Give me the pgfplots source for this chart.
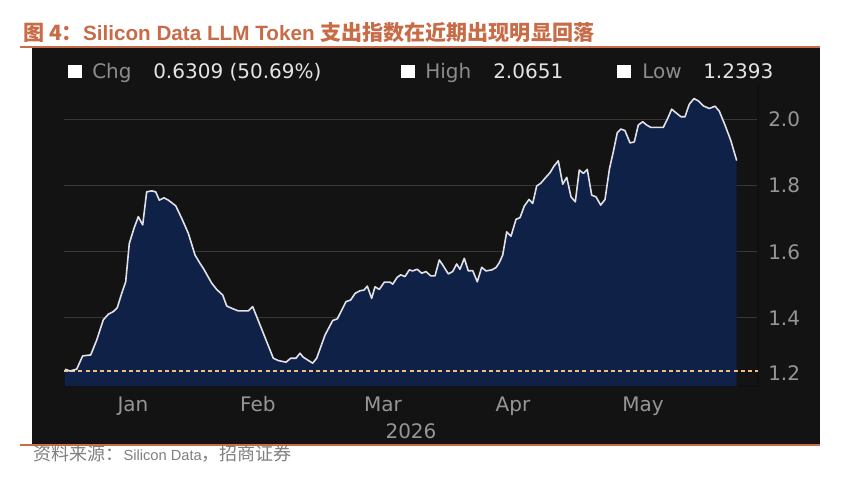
\documentclass[border=0pt]{standalone}
\usepackage{fontspec}
\usepackage{pgfplots}
\usepackage{pgfplotstable}
\pgfplotsset{compat=1.18}
\setmainfont{Liberation Sans}
\newfontfamily\cjk{Noto Sans CJK SC}
\newfontfamily\dv{DejaVu Sans}
\definecolor{titlec}{RGB}{200,108,72}
\definecolor{panel}{RGB}{19,19,19}
\definecolor{fillc}{RGB}{15,33,70}
\definecolor{gridc}{RGB}{55,55,55}
\definecolor{tickc}{RGB}{150,150,150}
\definecolor{labc}{RGB}{140,140,140}
\definecolor{valc}{RGB}{228,228,228}
\definecolor{dashc}{RGB}{240,190,130}
\definecolor{linec}{RGB}{225,225,232}
\definecolor{srcc}{RGB}{128,128,128}

\pgfplotstableread{
d v
0 1.2446
1.18 1.2393
2.75 1.245
4.16 1.285
6.05 1.288
7.46 1.333
9.01 1.394
10.19 1.411
11.36 1.419
12.31 1.431
13.34 1.474
14.28 1.509
15.13 1.625
16.24 1.671
17.25 1.706
18.28 1.681
19.22 1.781
20.40 1.784
21.34 1.781
22.19 1.756
23.29 1.763
24.31 1.756
26.05 1.739
27.46 1.701
29.01 1.656
30.59 1.590
31.76 1.565
32.54 1.550
34.52 1.505
35.69 1.486
37.11 1.469
38.05 1.436
39.22 1.429
40.78 1.421
43.13 1.421
44.16 1.434
45.88 1.379
49.01 1.278
50.19 1.271
52.00 1.266
53.11 1.278
54.35 1.278
55.29 1.293
56.07 1.281
58.28 1.263
59.22 1.278
61.18 1.348
62.99 1.392
64.07 1.397
66.12 1.449
67.22 1.454
68.24 1.474
69.41 1.482
70.35 1.484
71.13 1.496
72.16 1.459
72.94 1.494
73.95 1.486
75.13 1.508
76.47 1.508
77.11 1.502
78.19 1.523
78.99 1.530
80.00 1.525
81.01 1.545
81.81 1.542
82.89 1.547
83.93 1.535
84.94 1.540
86.05 1.527
87.06 1.527
88.07 1.575
88.87 1.560
90.19 1.533
91.22 1.540
92.16 1.563
92.94 1.547
93.95 1.580
94.89 1.542
95.93 1.543
97.01 1.509
98.05 1.553
99.06 1.542
100.40 1.545
101.41 1.552
102.19 1.567
102.99 1.590
103.93 1.660
104.94 1.647
106.12 1.698
107.06 1.703
108.07 1.738
109.18 1.758
110.05 1.746
110.99 1.799
111.93 1.807
112.94 1.822
114.12 1.839
115.06 1.859
116.07 1.875
117.11 1.804
118.05 1.825
119.06 1.766
120.07 1.751
121.01 1.847
121.95 1.837
122.89 1.849
123.93 1.771
124.94 1.766
126.05 1.741
127.06 1.758
128.10 1.850
129.06 1.905
129.95 1.960
130.82 1.971
131.76 1.966
132.94 1.929
133.95 1.932
134.89 1.983
135.93 1.993
136.87 1.983
137.81 1.976
140.78 1.976
141.81 2.003
142.75 2.031
143.76 2.020
144.94 2.008
145.88 2.008
146.89 2.046
148.00 2.063
149.01 2.056
150.19 2.041
151.60 2.033
152.94 2.040
153.95 2.025
155.29 1.983
156.64 1.937
158.05 1.8755
}\series

\begin{document}
\begin{tikzpicture}
% canvas 842x476 px, 1px = 0.75pt
\path[use as bounding box, fill=white] (0pt,0pt) rectangle (631.5pt,-357pt);
% title
\node[anchor=base west, inner sep=0pt, text=titlec, font=\fontsize{15.5}{18}\selectfont\bfseries] at (17.25pt,-30pt)
  {{\cjk\bfseries\fontsize{15.8}{18}\selectfont 图 4：}Silicon Data LLM Token {\cjk\bfseries\fontsize{15.8}{18}\selectfont 支出指数在近期出现明显回落}};
% panel
\fill[panel] (24pt,-36pt) rectangle (615pt,-333pt);
\draw[titlec, line width=1.5pt] (15pt,-35.25pt) -- (615pt,-35.25pt);
\draw[titlec, line width=1.5pt] (15pt,-333.75pt) -- (615pt,-333.75pt);
% source
\node[anchor=base west, inner sep=0pt, text=srcc, font=\fontsize{11}{13}\selectfont] at (25pt,-345pt)
  {{\cjk\fontsize{13.5}{15}\selectfont 资料来源：}Silicon Data{\cjk\fontsize{13.5}{15}\selectfont ，招商证券}};
% legend row
\fill[white] (51.2pt,-48.75pt) rectangle (61.3pt,-58.7pt);
\node[anchor=base west, inner sep=0pt, text=labc, font=\dv\fontsize{15}{18}\selectfont] at (69pt,-58.7pt) {Chg};
\node[anchor=base west, inner sep=0pt, text=valc, font=\dv\fontsize{15}{18}\selectfont] at (114.75pt,-58.7pt) {0.6309 (50.69\%)};
\fill[white] (300.75pt,-48.75pt) rectangle (311.25pt,-58.7pt);
\node[anchor=base west, inner sep=0pt, text=labc, font=\dv\fontsize{15}{18}\selectfont] at (318.75pt,-58.7pt) {High};
\node[anchor=base west, inner sep=0pt, text=valc, font=\dv\fontsize{15}{18}\selectfont] at (369.75pt,-58.7pt) {2.0651};
\fill[white] (462.75pt,-48.75pt) rectangle (473.25pt,-58.7pt);
\node[anchor=base west, inner sep=0pt, text=labc, font=\dv\fontsize{15}{18}\selectfont] at (481.5pt,-58.7pt) {Low};
\node[anchor=base west, inner sep=0pt, text=valc, font=\dv\fontsize{15}{18}\selectfont] at (527.25pt,-58.7pt) {1.2393};
% chart
\begin{axis}[
  at={(48pt,-289.5pt)}, anchor=south west,
  scale only axis, width=520.5pt, height=225.75pt,
  xmin=-0.235, xmax=163.06, ymin=1.194, ymax=2.104,
  axis x line=bottom, axis y line=right,
  axis line style={-, draw=gridc!120, line width=0.8pt},
  xtick={16.0,45.4,74.8,105.4,136.0},
  xticklabels={Jan,Feb,Mar,Apr,May},
  ytick={1.4,1.6,1.8,2.0},
  extra y ticks={1.2},
  extra y tick style={grid=none, yticklabel style={yshift=8pt}},
  major tick length=0pt,
  ymajorgrids, major grid style={draw=gridc, line width=0.75pt},
  /pgf/number format/.cd, fixed, fixed zerofill, precision=1, assume math mode=true,
  /pgfplots/.cd,
  ticklabel style={text=tickc, font=\dv\fontsize{15}{18}\selectfont},
  xticklabel style={anchor=base, yshift=-19.3pt},
  yticklabel style={anchor=west, inner sep=0pt, xshift=7.5pt},
  xlabel={2026},
  xlabel style={at={(axis description cs:0.5,0)}, anchor=base, yshift=-39pt, inner sep=0pt, text=tickc, font=\dv\fontsize{15}{18}\selectfont},
  clip=true,
]
\addplot[draw=none, fill=fillc] table[x=d, y=v] {\series} \closedcycle;
\addplot[dashc, line width=1pt, dash pattern=on 3pt off 2.4pt] coordinates {(-0.235,1.2393) (163.06,1.2393)};
\addplot[linec, line width=1.2pt, line join=round] table[x=d, y=v] {\series};
\end{axis}
\end{tikzpicture}
\end{document}
